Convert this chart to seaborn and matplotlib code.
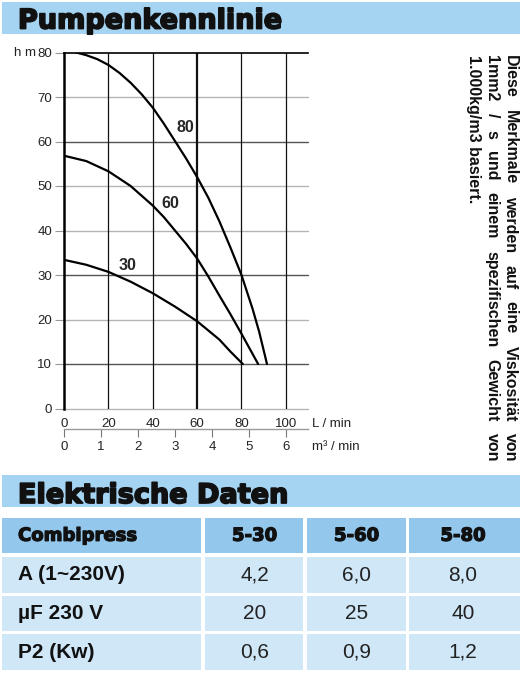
import numpy as np
import pandas as pd
import seaborn as sns
import matplotlib.pyplot as plt
import matplotlib.patheffects as pe
from matplotlib.patches import Rectangle

sns.set_style("white")
plt.rcParams['font.family'] = ['Liberation Sans', 'DejaVu Sans']

# pump curves: flow in L/min, head in m
flow_30 = [0, 10, 20, 30, 40, 50, 60, 70, 75, 80.6]
head_30 = [33.4, 32.3, 30.7, 28.5, 25.9, 22.9, 19.6, 15.5, 12.8, 10]
flow_60 = [0, 10, 20, 30, 40, 45, 50, 55, 60, 65, 70, 75, 80, 87.5]
head_60 = [56.8, 55.6, 53.3, 50.0, 45.6, 43.0, 40.0, 37.0, 33.7, 29.7, 25.4, 21.2, 16.8, 10]
flow_80 = [4, 10, 15, 20, 25, 30, 35, 40, 45, 50, 55, 60, 65, 70, 75, 80, 85, 88, 91.5]
head_80 = [80.2, 79.4, 78.5, 77.2, 75.4, 73.2, 70.6, 67.6, 64.0, 60.1, 56.2, 52.0,
           47.4, 42.1, 36.2, 30.0, 22.4, 17.2, 10]
curve_names = ["30", "60", "80"]

x_ticks = [0, 20, 40, 60, 80, 100]
y_ticks = [0, 10, 20, 30, 40, 50, 60, 70, 80]
m3_ticks = [0, 1, 2, 3, 4, 5, 6]

note_lines = ["Diese Merkmale werden auf eine Viskosität von",
              "1mm2 / s und einem spezifischen Gewicht von",
              "1.000kg/m3 basiert."]

# electrical data table
table_header = ["Combipress", "5-30", "5-60", "5-80"]
row_labels = ["A (1~230V)", "µF 230 V", "P2 (Kw)"]
amps = ["4,2", "6,0", "8,0"]
capacitor = ["20", "25", "40"]
power = ["0,6", "0,9", "1,2"]


def heavy(size, stroke):
    # DejaVu bold with a stroke to get close to the black display face
    return dict(family='DejaVu Sans', fontweight='bold', fontsize=size, color='#111',
                path_effects=[pe.withStroke(linewidth=stroke, foreground='#111')])


W, H = 522, 674
fig = plt.figure(figsize=(W / 100, H / 100), dpi=100)
bg = fig.add_axes([0, 0, 1, 1], zorder=0)
bg.set_xlim(0, W)
bg.set_ylim(H, 0)
bg.axis('off')

bar_blue = '#a5d3f2'
head_blue = '#93c7ec'
body_blue = '#d0e7f8'

# title bars
bg.add_patch(Rectangle((2, 2), 518, 31.5, color=bar_blue, lw=0))
bg.text(18, 28.5, "Pumpenkennlinie", va='baseline', **heavy(19.5, 1.3))
bg.add_patch(Rectangle((2, 475), 518, 32, color=bar_blue, lw=0))
bg.text(18, 503, "Elektrische Daten", va='baseline', **heavy(19.5, 1.3))

# chart
ax = fig.add_axes([64.1 / W, 1 - 408.5 / H, 243.9 / W, 356 / H], zorder=2)
ax.patch.set_alpha(0)
df = pd.concat([
    pd.DataFrame({'flow': flow_30, 'head': head_30, 'pump': curve_names[0]}),
    pd.DataFrame({'flow': flow_60, 'head': head_60, 'pump': curve_names[1]}),
    pd.DataFrame({'flow': flow_80, 'head': head_80, 'pump': curve_names[2]}),
])
sns.lineplot(data=df, x='flow', y='head', units='pump', estimator=None, sort=False,
             color='black', lw=1.6, ax=ax, legend=False, zorder=5)

for v in y_ticks[:-1]:
    dark = v in (10, 30, 60)
    ax.axhline(v, color='#555' if dark else '#b5b5b5', lw=1.0, zorder=1, clip_on=False)
for v in x_ticks[1:]:
    ax.axvline(v, color='#111', lw=1.6 if v == 60 else 0.9, zorder=1)

ax.set_xlim(0, 110)
ax.set_ylim(0, 80)
ax.set_xticks(x_ticks)
ax.set_yticks(y_ticks)
ax.set_xlabel("")
ax.set_ylabel("")
for s in ['right', 'bottom']:
    ax.spines[s].set_visible(False)
ax.spines['left'].set_color('black')
ax.spines['left'].set_linewidth(1.8)
ax.spines['top'].set_color('black')
ax.spines['top'].set_linewidth(1.2)
ax.tick_params(axis='y', left=True, direction='out', length=6.5, width=0.8,
               color='#999', pad=2, labelsize=9.5, labelcolor='#222')
ax.tick_params(axis='x', bottom=True, length=0, pad=7, labelsize=9.5, labelcolor='#222')

sec = ax.secondary_xaxis(-20.5 / 356, functions=(lambda x: x / 16.6667, lambda x: x * 16.6667))
sec.set_xticks(m3_ticks)
sec.spines['bottom'].set_color('#999')
sec.spines['bottom'].set_linewidth(1.0)
sec.tick_params(axis='x', direction='out', length=6, width=0.8, color='#777',
                pad=3, labelsize=9.5, labelcolor='#222')

# curve labels
for name, fx, fy in zip(curve_names, [28.8, 47.7, 54.7], [32.2, 46.0, 63.1]):
    ax.text(fx, fy, name, fontsize=11.5, fontweight='bold', ha='center', va='center', zorder=6)

bg.text(36, 52.5, "h m", ha='right', va='center', fontsize=9.5, color='#222')
bg.text(312, 424, "L / min", ha='left', va='center', fontsize=9.5, color='#222')
bg.text(312, 447, "m³ / min", ha='left', va='center', fontsize=9.5, color='#222')

# rotated, justified note on the right
renderer = fig.canvas.get_renderer()
top, bottom = 55, 462
for i, line in enumerate(note_lines):
    xb = 506 - 18.5 * i
    kw = dict(rotation=-90, rotation_mode='anchor', ha='left', va='baseline',
              fontsize=11.5, fontweight='bold', color='#111')
    if i < len(note_lines) - 1:
        words = line.split()
        texts = [bg.text(xb, top, w, **kw) for w in words]
        lens = [t.get_window_extent(renderer).height for t in texts]
        gap = (bottom - top - sum(lens)) / (len(words) - 1)
        y = top
        for t, l in zip(texts, lens):
            t.set_y(y)
            y += l + gap
    else:
        bg.text(xb, top, line, **kw)

# table
col_edges = [(2, 201), (205, 303.3), (307, 406), (409.3, 520)]
row_edges = [(518.3, 553.3), (557.3, 592.7), (596, 631), (634.3, 670)]
col_centers = [None, 254.5, 356.5, 463]
body = [amps, capacitor, power]

for r, (y0, y1) in enumerate(row_edges):
    for c, (x0, x1) in enumerate(col_edges):
        bg.add_patch(Rectangle((x0, y0), x1 - x0, y1 - y0,
                               color=head_blue if r == 0 else body_blue, lw=0))
    yc = (y0 + y1) / 2
    if r == 0:
        bg.text(18, yc, table_header[0], va='center', **heavy(13, 0.9))
        for c in range(1, 4):
            bg.text(col_centers[c], yc, table_header[c], ha='center', va='center',
                    **heavy(13, 0.9))
    else:
        bg.text(18, yc, row_labels[r - 1], fontsize=15, fontweight='bold', va='center', color='#111')
        for c in range(1, 4):
            bg.text(col_centers[c], yc, body[r - 1][c - 1], fontsize=15,
                    ha='center', va='center', color='#222')

fig.savefig("out.png", dpi=100)
